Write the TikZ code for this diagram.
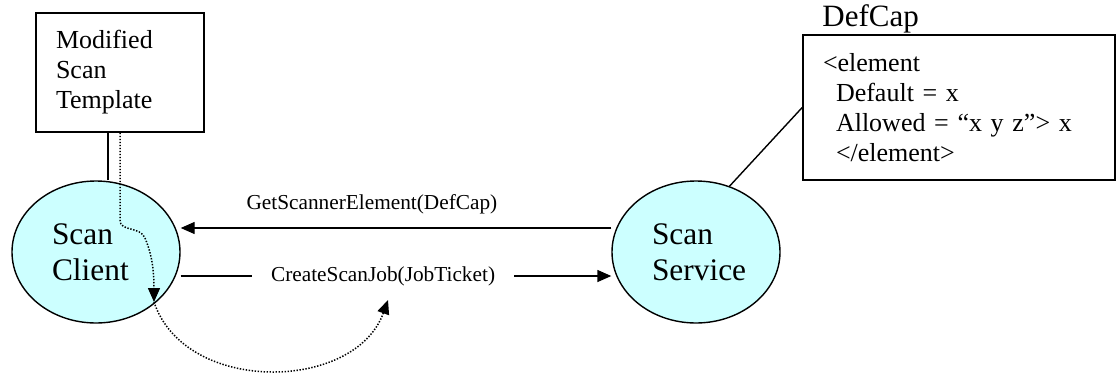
\documentclass[tikz,border=0pt]{standalone}
\usepackage{fontspec}
\setmainfont{Liberation Serif}
\usetikzlibrary{shapes.geometric,arrows.meta,positioning}
\definecolor{scancyan}{HTML}{CCFFFF}

\begin{document}
\begin{tikzpicture}[x=1pt,y=-1pt,
  every node/.style={inner sep=0pt},
  docbox/.style={draw,line width=1.6pt,align=left,inner xsep=20pt,
    font=\fontsize{26}{30}\selectfont},
  party/.style={draw,ellipse,line width=1.4pt,fill=scancyan,
    minimum width=168pt,minimum height=142pt,
    text width=88pt,align=left,font=\fontsize{31.4}{36}\selectfont},
  msg/.style={-{Triangle[length=14pt,width=12pt]},line width=1.4pt},
  hop/.style={-{Triangle[length=14pt,width=12pt]},line width=1.5pt,
    dash pattern=on 1.4pt off 1.6pt},
  msglabel/.style={font=\fontsize{21.3}{25}\selectfont},
  ]
  \useasboundingbox (0,0) rectangle (1117,373);

  % documents
  \node[docbox,text width=128pt,minimum height=119pt] (tmpl) at (120,72.5)
    {Modified\\Scan\\Template};
  \node[docbox,text width=272pt,minimum height=145pt] (defbox) at (959,107.5)
    {<element\\
     \hspace*{0.5em}Default = x\\
     \hspace*{0.5em}Allowed = “x y z”> x\\
     \hspace*{0.5em}</element>};
  \node[anchor=base west,font=\fontsize{31}{36}\selectfont] (defcap)
    at ([xshift=20pt,yshift=7.5pt]defbox.north west) {DefCap};

  % parties
  \node[party] (client) at (96,252) {Scan\\Client};
  \node[party] (service) at (696,252) {Scan\\Service};

  \draw[line width=1.4pt] ([xshift=-12pt]tmpl.south)
    -- ([xshift=-12pt]tmpl.south |- client.north);
  \draw[line width=1.4pt] (service.63) -- (defbox.west);

  % messages
  \draw[msg] ([yshift=24pt]service.west) --
    node[msglabel,above=13pt,pos=0.556] (getlbl) {GetScannerElement(DefCap)}
    ([yshift=24pt]client.east);
  \draw[msg] ([yshift=-24pt]client.east) --
    node[msglabel,fill=white,inner xsep=19pt,inner ysep=2pt,pos=0.47] (createlbl)
    {CreateScanJob(JobTicket)}
    ([yshift=-24pt]service.west);

  % template flow
  \coordinate (drop) at (154,302);
  \coordinate (jobend) at (388,300);
  \draw[hop] (tmpl.south) -- (120,220)
    .. controls (120,232) and (140,226) .. (145,238)
    .. controls (152,255) and (154,270) .. (drop);
  \draw[hop] (drop) .. controls (185,395) and (355,392) .. (jobend);
\end{tikzpicture}
\end{document}
